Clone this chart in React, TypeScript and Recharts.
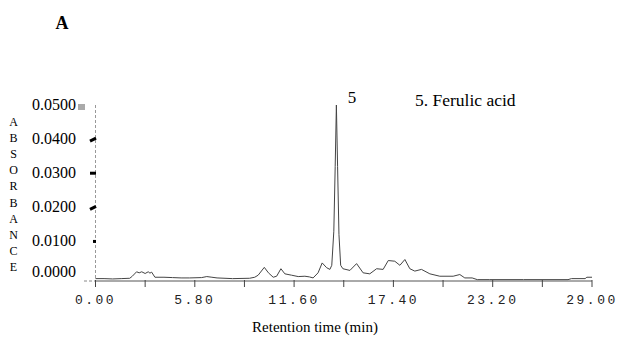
import { Line, LineChart, XAxis, YAxis } from "recharts";

const retentionTime = [
  0, 0.5, 1.0, 1.5, 2.0, 2.15, 2.4, 2.55, 2.7, 2.9, 3.08, 3.18, 3.28, 3.47, 4.0, 4.5, 5.0, 5.5, 6.2, 6.5,
  6.8, 7.1, 8.0, 9.0, 9.3, 9.5, 9.86, 10.1, 10.38, 10.58, 10.83, 11.06, 11.45, 11.84, 12.23, 12.5, 12.71,
  13.0, 13.24, 13.5, 13.69, 13.8, 13.92, 14.0, 14.07, 14.14, 14.22, 14.32, 14.45, 14.86, 15.25, 15.63,
  16.02, 16.42, 16.8, 17.1, 17.48, 17.78, 18.07, 18.36, 18.65, 19.04, 19.53, 20.11, 20.89, 21.28, 21.57,
  22.0, 22.3, 23.0, 25.0, 27.6, 27.8, 28.6, 28.7, 29.0,
];

const absorbance = [
  -0.0009, -0.0009, -0.001, -0.0009, -0.0008, -0.0002, 0.0011, 0.0008, 0.0011, 0.0006, 0.0011, 0.0007,
  0.001, -0.0005, -0.0005, -0.0006, -0.0007, -0.0007, -0.0006, -0.0003, -0.0005, -0.0007, -0.0009,
  -0.0008, -0.0005, 0.0001, 0.0024, 0.0008, -0.0005, -0.0002, 0.002, 0.0005, 0.0001, -0.0003, -0.0002,
  -0.0004, -0.0007, 0.0008, 0.0037, 0.0023, 0.0018, 0.003, 0.013, 0.032, 0.05, 0.032, 0.012, 0.003,
  0.002, 0.0015, 0.0035, 0.0008, 0.0005, 0.002, 0.0018, 0.0044, 0.0042, 0.003, 0.0047, 0.002, 0.0013,
  0.0018, 0.0005, -0.0002, -0.0002, 0.0003, -0.0007, -0.0007, -0.0012, -0.0012, -0.0012, -0.0012,
  -0.0009, -0.0009, -0.0005, -0.0005,
];

const xTicks = [0, 2.9, 5.8, 8.7, 11.6, 14.5, 17.4, 20.3, 23.2, 26.1, 29.0];
const xLabels = ["0.00", "", "5.80", "", "11.60", "", "17.40", "", "23.20", "", "29.00"];
const yTicks = [0, 0.01, 0.02, 0.03, 0.04, 0.05];
const yLabels = ["0.0000", "0.0100", "0.0200", "0.0300", "0.0400", "0.0500"];
const yTitle = "ABSORBANCE".split("");

const data = retentionTime.map((t, i) => ({ t, a: absorbance[i] }));

const AXIS_Y = 281;
const SERIF = "'Liberation Serif', 'DejaVu Serif', serif";

function XTick(props: any) {
  const { x, index } = props;
  return (
    <g>
      <line x1={x} x2={x} y1={AXIS_Y - 1} y2={AXIS_Y + 6} stroke="#444" strokeWidth={1} />
      <text
        x={x}
        y={304}
        textAnchor="middle"
        fontFamily="'Liberation Mono', monospace"
        fontSize={13}
        letterSpacing={2.5}
        fill="#222"
      >
        {xLabels[index]}
      </text>
    </g>
  );
}

function YTick(props: any) {
  const { y, index } = props;
  const v = yTicks[index];
  const dy = v === 0 ? -4 : 0;
  let mark = null;
  if (v === 0.05) {
    mark = <rect x={78} y={y - 1} width={7} height={6} fill="#aaa" />;
  } else if (v === 0.04 || v === 0.02) {
    mark = <line x1={90} y1={y + 2} x2={96} y2={y - 1} stroke="#000" strokeWidth={3} />;
  } else if (v === 0.03) {
    mark = <line x1={90} y1={y} x2={96} y2={y} stroke="#000" strokeWidth={3} />;
  } else if (v === 0.01) {
    mark = <line x1={93} y1={y} x2={96} y2={y} stroke="#000" strokeWidth={3} />;
  }
  return (
    <g>
      {mark}
      <text x={76} y={y + dy + 5} textAnchor="end" fontFamily={SERIF} fontSize={16} fill="#000">
        {yLabels[index]}
      </text>
    </g>
  );
}

export default function App() {
  return (
    <div style={{ position: "absolute", left: 0, top: 0, width: 619, height: 339, background: "#fff" }}>
      <LineChart width={619} height={339} data={data} margin={{ top: 105, right: 27, bottom: 0, left: 0 }}>
        <XAxis
          dataKey="t"
          type="number"
          domain={[0, 29]}
          ticks={xTicks}
          interval={0}
          height={58}
          tickLine={false}
          tick={<XTick />}
          axisLine={{ stroke: "#555", strokeWidth: 1 }}
        />
        <YAxis
          type="number"
          domain={[-0.0016, 0.05]}
          ticks={yTicks}
          interval={0}
          width={95.5}
          tickLine={false}
          tick={<YTick />}
          axisLine={{ stroke: "#999", strokeWidth: 1, strokeDasharray: "3 2" }}
          allowDataOverflow
        />
        <Line
          type="linear"
          dataKey="a"
          stroke="#444"
          strokeWidth={1}
          dot={false}
          isAnimationActive={false}
        />
      </LineChart>
      <svg
        width={619}
        height={339}
        style={{ position: "absolute", left: 0, top: 0, pointerEvents: "none" }}
      >
        <text x={62} y={29} textAnchor="middle" fontFamily={SERIF} fontWeight="bold" fontSize={18} fill="#000">
          A
        </text>
        {yTitle.map((ch, i) => (
          <text key={i} x={13.5} y={126 + i * 16.1} textAnchor="middle" fontFamily={SERIF} fontSize={12} fill="#000">
            {ch}
          </text>
        ))}
        <line x1={84} x2={95} y1={AXIS_Y} y2={AXIS_Y} stroke="#888" strokeDasharray="3 2" />
        <text x={352} y={103} textAnchor="middle" fontFamily={SERIF} fontSize={17} fill="#000">
          5
        </text>
        <text x={415} y={106} fontFamily={SERIF} fontSize={17.5} fill="#000">
          5. Ferulic acid
        </text>
        <text x={315} y={332} textAnchor="middle" fontFamily={SERIF} fontSize={15} fill="#000">
          Retention time (min)
        </text>
      </svg>
    </div>
  );
}
